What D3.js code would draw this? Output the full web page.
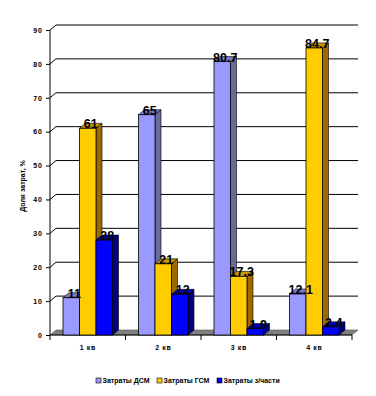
<!DOCTYPE html>
<html>
<head>
<meta charset="utf-8">
<script src="https://cdn.jsdelivr.net/npm/d3@7"></script>
<style>
  body { margin: 0; background: #fff; }
  svg { display: block; font-family: Arial, "Liberation Sans", sans-serif; }
</style>
</head>
<body>
<div id="chart"></div>
<script>
// data
const categories = ["1 кв", "2 кв", "3 кв", "4 кв"];
const seriesNames = ["Затраты ДСМ", "Затраты ГСМ", "Затраты з/части"];
const dsmValues = [11, 65, 80.7, 12.1];
const gsmValues = [61, 21, 17.3, 84.7];
const partsValues = [28, 12, 1.9, 2.4];
const yTickValues = [0, 10, 20, 30, 40, 50, 60, 70, 80, 90];

const series = [dsmValues, gsmValues, partsValues];
const frontColors = ["#9999ff", "#ffcc00", "#0000ff"];
const sideColors = ["#6a6a9c", "#9c6a00", "#000080"];
const topColors = ["#7a7ac8", "#c89600", "#0000b0"];

const width = 376, height = 396;
const x0 = 50, x1 = 352, yBase = 335, yTop = 30;
const dx = 6, dy = -5;   // 3d depth offset

const svg = d3.select("#chart").append("svg")
    .attr("width", width)
    .attr("height", height);

const y = d3.scaleLinear().domain([0, 90]).range([yBase, yTop]);
const x = d3.scaleBand().domain(categories).range([x0, x1]).padding(0);
const groupPad = 13;
const barW = (x.bandwidth() - 2 * groupPad) / 3;

// floor
svg.append("path")
    .attr("d", `M${x0},${yBase} L${x1},${yBase} L${x1 + dx},${yBase + dy} L${x0 + dx},${yBase + dy} Z`)
    .attr("fill", "#808080")
    .attr("stroke", "#555")
    .attr("stroke-width", 0.6);

// gridlines on back wall
svg.append("g").selectAll("path")
    .data(yTickValues.filter(d => d > 0))
    .enter().append("path")
    .attr("d", d => `M${x0},${y(d)} L${x0 + dx},${y(d) + dy} L${x1 + dx},${y(d) + dy}`)
    .attr("fill", "none")
    .attr("stroke", "#000")
    .attr("stroke-width", 1);

// y axis
const yAxis = d3.axisLeft(y).tickValues(yTickValues).tickSize(4).tickPadding(3);
svg.append("g")
    .attr("transform", `translate(${x0},0)`)
    .call(yAxis)
    .call(g => g.select(".domain").attr("d", `M-0,${yBase + 5}V${yTop}`))
    .call(g => g.selectAll("text")
        .attr("font-size", 7)
        .attr("font-weight", "bold")
        .attr("letter-spacing", 1)
        .attr("fill", "#000"));

// x axis
const xAxis = d3.axisBottom(x).tickSize(0).tickPadding(10);
svg.append("g")
    .attr("transform", `translate(0,${yBase})`)
    .call(xAxis)
    .call(g => g.select(".domain").attr("d", `M${x0},0H${x1}`))
    .call(g => g.selectAll("text")
        .attr("font-size", 7)
        .attr("font-weight", "bold")
        .attr("letter-spacing", 0.6)
        .attr("fill", "#000"));

// category separators
svg.append("g").selectAll("line")
    .data(categories.slice(1).concat(["end"]))
    .enter().append("line")
    .attr("x1", (d, i) => i < 3 ? x(d) : x1)
    .attr("x2", (d, i) => i < 3 ? x(d) : x1)
    .attr("y1", yBase)
    .attr("y2", yBase + 5)
    .attr("stroke", "#000");

// bars
const bars = [];
categories.forEach((c, i) => {
    series.forEach((s, j) => {
        bars.push({cat: c, s: j, v: s[i]});
    });
});

const barG = svg.append("g");
bars.forEach(b => {
    const bx = x(b.cat) + groupPad + b.s * barW;
    const by = y(b.v);
    const g = barG.append("g");
    // side face
    g.append("path")
        .attr("d", `M${bx + barW},${yBase} L${bx + barW + dx},${yBase + dy} L${bx + barW + dx},${by + dy} L${bx + barW},${by} Z`)
        .attr("fill", sideColors[b.s])
        .attr("stroke", "#000")
        .attr("stroke-width", 0.6);
    // top face
    g.append("path")
        .attr("d", `M${bx},${by} L${bx + dx},${by + dy} L${bx + barW + dx},${by + dy} L${bx + barW},${by} Z`)
        .attr("fill", topColors[b.s])
        .attr("stroke", "#000")
        .attr("stroke-width", 0.6);
    // front face
    g.append("rect")
        .attr("x", bx)
        .attr("y", by)
        .attr("width", barW)
        .attr("height", yBase - by)
        .attr("fill", frontColors[b.s])
        .attr("stroke", "#000")
        .attr("stroke-width", 0.8);
});

// value labels
svg.append("g").selectAll("text")
    .data(bars)
    .enter().append("text")
    .attr("x", d => x(d.cat) + groupPad + d.s * barW + barW / 2 + 3)
    .attr("y", d => y(d.v))
    .attr("text-anchor", "middle")
    .attr("font-size", 12.5)
    .attr("font-weight", "bold")
    .attr("fill", "#000")
    .text(d => d.v);

// y label
svg.append("text")
    .attr("transform", "translate(25,186) rotate(-90)")
    .attr("text-anchor", "middle")
    .attr("font-size", 7)
    .attr("font-weight", "bold")
    .text("Доля затрат, %");

// legend
const legendX = [96, 157, 217];
const legend = svg.append("g").selectAll("g")
    .data(seriesNames)
    .enter().append("g")
    .attr("transform", (d, i) => `translate(${legendX[i]},378)`);

legend.append("rect")
    .attr("width", 5)
    .attr("height", 5)
    .attr("fill", (d, i) => frontColors[i])
    .attr("stroke", "#000")
    .attr("stroke-width", 0.6);

legend.append("text")
    .attr("x", 6.5)
    .attr("y", 5)
    .attr("font-size", 7)
    .attr("font-weight", "bold")
    .text(d => d);
</script>
</body>
</html>
